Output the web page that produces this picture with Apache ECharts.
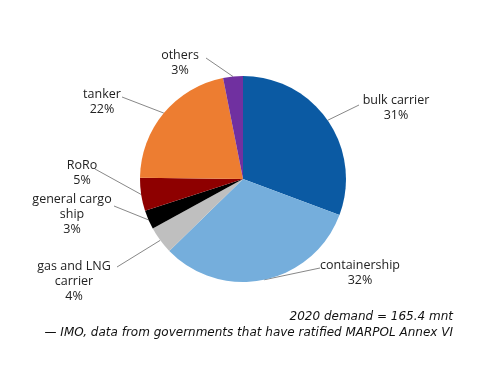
<!DOCTYPE html>
<html>
<head>
<meta charset="utf-8">
<script src="https://cdn.jsdelivr.net/npm/echarts@6/dist/echarts.min.js"></script>
<style>html,body{margin:0;padding:0;background:#fff}#c{width:500px;height:386px}</style>
</head>
<body>
<div id="c"></div>
<script>
// Data (share of 2020 demand, %)
const categories = ['bulk carrier', 'containership', 'gas and LNG\ncarrier', 'general cargo\nship', 'RoRo', 'tanker', 'others'];
const shares = [30.7, 32.0, 4.3, 3.0, 5.2, 21.7, 3.1];
const colors = ['#0B5AA3', '#75AEDC', '#BFBFBF', '#000000', '#8E0000', '#ED7D31', '#7030A0'];
const footnote = ['2020 demand = 165.4 mnt', '\u2014 IMO, data from governments that have ratified MARPOL Annex VI'];
// label anchor positions (px) and leader-line end at the text
const labelPos = [[396, 108], [360, 273], [74, 281], [72, 214], [82, 173], [102, 102], [180, 63]];
const lineEnd = [[359, 105], [320, 268], [117, 267], [114, 206], [95, 169], [122, 97], [206, 58]];

const chart = echarts.init(document.getElementById('c'), null, {renderer: 'canvas'});
chart.setOption({
  animation: false,
  backgroundColor: '#fff',
  series: [{
    type: 'pie',
    center: [243, 179],
    radius: 103,
    startAngle: 90,
    clockwise: true,
    percentPrecision: 0,
    avoidLabelOverlap: false,
    data: categories.map((n, i) => ({name: n, value: shares[i], itemStyle: {color: colors[i]}})),
    label: {
      show: true,
      formatter: '{b}\n{d}%',
      fontFamily: 'Open Sans',
      fontSize: 12.5,
      lineHeight: 15,
      color: '#222',
      align: 'center'
    },
    labelLine: {show: true, length: 10, length2: 0, lineStyle: {color: '#888', width: 1}},
    labelLayout: function (p) {
      const pos = labelPos[p.dataIndex];
      const start = p.labelLinePoints ? p.labelLinePoints[0] : lineEnd[p.dataIndex];
      const end = lineEnd[p.dataIndex];
      return {
        x: pos[0], y: pos[1], align: 'center', verticalAlign: 'middle',
        labelLinePoints: [[start[0], start[1]], [end[0], end[1]], [end[0], end[1]]]
      };
    },
    emphasis: {disabled: true}
  }],
  graphic: footnote.map((t, i) => ({
    type: 'text',
    right: 47,
    top: 311 + i * 16,
    style: {text: t, font: 'italic 12px "DejaVu Sans"', fill: '#111', textAlign: 'right'}
  }))
});
</script>
</body>
</html>
